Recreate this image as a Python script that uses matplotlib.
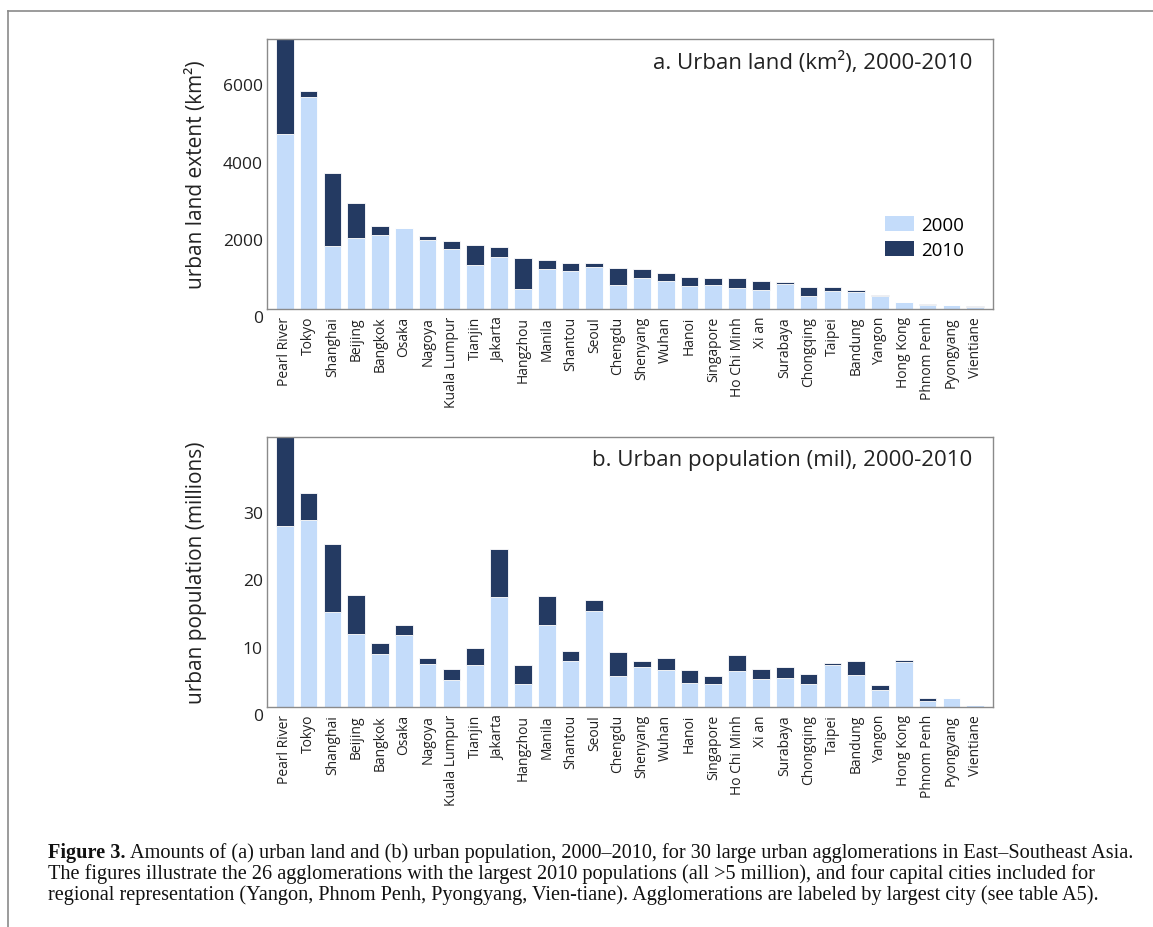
import numpy as np
import matplotlib
matplotlib.use("Agg")
import matplotlib.pyplot as plt
from matplotlib.lines import Line2D
from matplotlib.patches import Patch
from matplotlib.transforms import ScaledTranslation

# --- data ---
cities = ["Pearl River", "Tokyo", "Shanghai", "Beijing", "Bangkok", "Osaka", "Nagoya",
          "Kuala Lumpur", "Tianjin", "Jakarta", "Hangzhou", "Manila", "Shantou", "Seoul",
          "Chengdu", "Shenyang", "Wuhan", "Hanoi", "Singapore", "Ho Chi Minh", "Xi an",
          "Surabaya", "Chongqing", "Taipei", "Bandung", "Yangon", "Hong Kong",
          "Phnom Penh", "Pyongyang", "Vientiane"]

land_2000 = [4540, 5505, 1625, 1850, 1925, 2090, 1790, 1565, 1130, 1350, 520, 1035, 995, 1080,
             615, 810, 715, 590, 615, 555, 485, 650, 330, 475, 430, 345, 180, 95, 105, 50]
land_2010 = [7300, 5645, 3515, 2740, 2145, 2100, 1895, 1755, 1660, 1600, 1315, 1270, 1200, 1195,
             1065, 1035, 940, 840, 810, 810, 725, 710, 580, 580, 500, 350, 185, 140, 110, 85]

pop_2000 = [26.8, 27.65, 14.1, 10.8, 7.85, 10.65, 6.35, 4.0, 6.25, 16.3, 3.45, 12.2, 6.75, 14.3,
            4.65, 5.9, 5.5, 3.55, 3.4, 5.35, 4.2, 4.35, 3.35, 6.2, 4.8, 2.6, 6.7, 0.95, 1.3, 0.25]
pop_2010 = [42.0, 31.7, 24.1, 16.6, 9.45, 12.15, 7.3, 5.65, 8.7, 23.35, 6.25, 16.4, 8.35, 15.8,
            8.2, 6.8, 7.2, 5.5, 4.6, 7.7, 5.65, 6.0, 4.95, 6.5, 6.8, 3.3, 6.9, 1.3, 1.35, 0.3]

light = "#c4dcfa"
dark = "#243a62"
frame = "#8a8a8a"

plt.rcParams["font.family"] = ["Open Sans", "DejaVu Sans"]

fig = plt.figure(figsize=(11.53, 9.28), dpi=100)
ax_a = fig.add_axes([0.2316, 0.666, 0.6296, 0.291])
ax_b = fig.add_axes([0.2316, 0.237, 0.6296, 0.291])

x = np.arange(len(cities))


def draw_panel(ax, v2000, v2010, ymax, yticks, ylabel, title):
    v2000 = np.array(v2000)
    v2010 = np.array(v2010)
    ax.bar(x, v2000, width=0.74, color=light, edgecolor="white", linewidth=0.6)
    ax.bar(x, v2010 - v2000, bottom=v2000, width=0.74, color=dark,
           edgecolor="white", linewidth=0.6)
    ax.set_xlim(-0.75, len(cities) - 0.25)
    ax.set_ylim(0, ymax)
    ax.set_yticks(yticks)
    ax.set_yticklabels([str(t) for t in yticks], fontsize=12.5, color="#222222")
    ax.set_xticks(x)
    ax.set_xticklabels(cities, rotation=90, fontsize=10, color="#222222")
    ax.tick_params(axis="both", length=0)
    ax.tick_params(axis="y", pad=3)
    ax.tick_params(axis="x", pad=5)
    # labels sit a bit below their value in the original
    for lab in ax.get_yticklabels():
        lab.set_transform(lab.get_transform() + ScaledTranslation(0, -7 / 100, fig.dpi_scale_trans))
    for s in ax.spines.values():
        s.set_color(frame)
        s.set_linewidth(1.0)
    ax.set_ylabel(ylabel, fontsize=15, color="#222222")
    ax.yaxis.set_label_coords(-0.083, 0.5)
    ax.text(0.972, 0.915, title, transform=ax.transAxes, ha="right", va="center",
            fontsize=16, color="#222222")


draw_panel(ax_a, land_2000, land_2010, 7000, [0, 2000, 4000, 6000],
           "urban land extent (km²)", "a. Urban land (km²), 2000-2010")
draw_panel(ax_b, pop_2000, pop_2010, 40, [0, 10, 20, 30],
           "urban population (millions)", "b. Urban population (mil), 2000-2010")

handles = [Patch(facecolor=light, edgecolor="none", label="2000"),
           Patch(facecolor=dark, edgecolor="none", label="2010")]
ax_a.legend(handles=handles, loc="center right", bbox_to_anchor=(0.97, 0.265),
            frameon=False, fontsize=13.5, handlelength=1.55, handleheight=0.85,
            handletextpad=0.35, labelspacing=0.4, borderaxespad=0)

# page border
fig.add_artist(Line2D([8 / 1153, 8 / 1153], [0, 1 - 12 / 928], transform=fig.transFigure,
                      color=frame, linewidth=1.2))
fig.add_artist(Line2D([8 / 1153, 1], [1 - 12 / 928, 1 - 12 / 928], transform=fig.transFigure,
                      color=frame, linewidth=1.2))

# caption
cap_font = ["Liberation Serif", "DejaVu Serif"]
line1 = " Amounts of (a) urban land and (b) urban population, 2000–2010, for 30 large urban agglomerations in East–Southeast Asia."
line2 = "The figures illustrate the 26 agglomerations with the largest 2010 populations (all >5 million), and four capital cities included for"
line3 = "regional representation (Yangon, Phnom Penh, Pyongyang, Vien-tiane). Agglomerations are labeled by largest city (see table A5)."

x0 = 48 / 1153
fs = 14.6
t_bold = fig.text(x0, 1 - 853 / 928, "Figure 3.", family=cap_font, fontweight="bold",
                  fontsize=fs, va="center", ha="left", color="#111111")
fig.canvas.draw()
bb = t_bold.get_window_extent()
fig.text(bb.x1 / fig.bbox.width, 1 - 853 / 928, line1, family=cap_font, fontsize=fs,
         va="center", ha="left", color="#111111")
fig.text(x0, 1 - 874 / 928, line2, family=cap_font, fontsize=fs, va="center", ha="left",
         color="#111111")
fig.text(x0, 1 - 895 / 928, line3, family=cap_font, fontsize=fs, va="center", ha="left",
         color="#111111")

fig.savefig("out.png", dpi=100, facecolor="white")
